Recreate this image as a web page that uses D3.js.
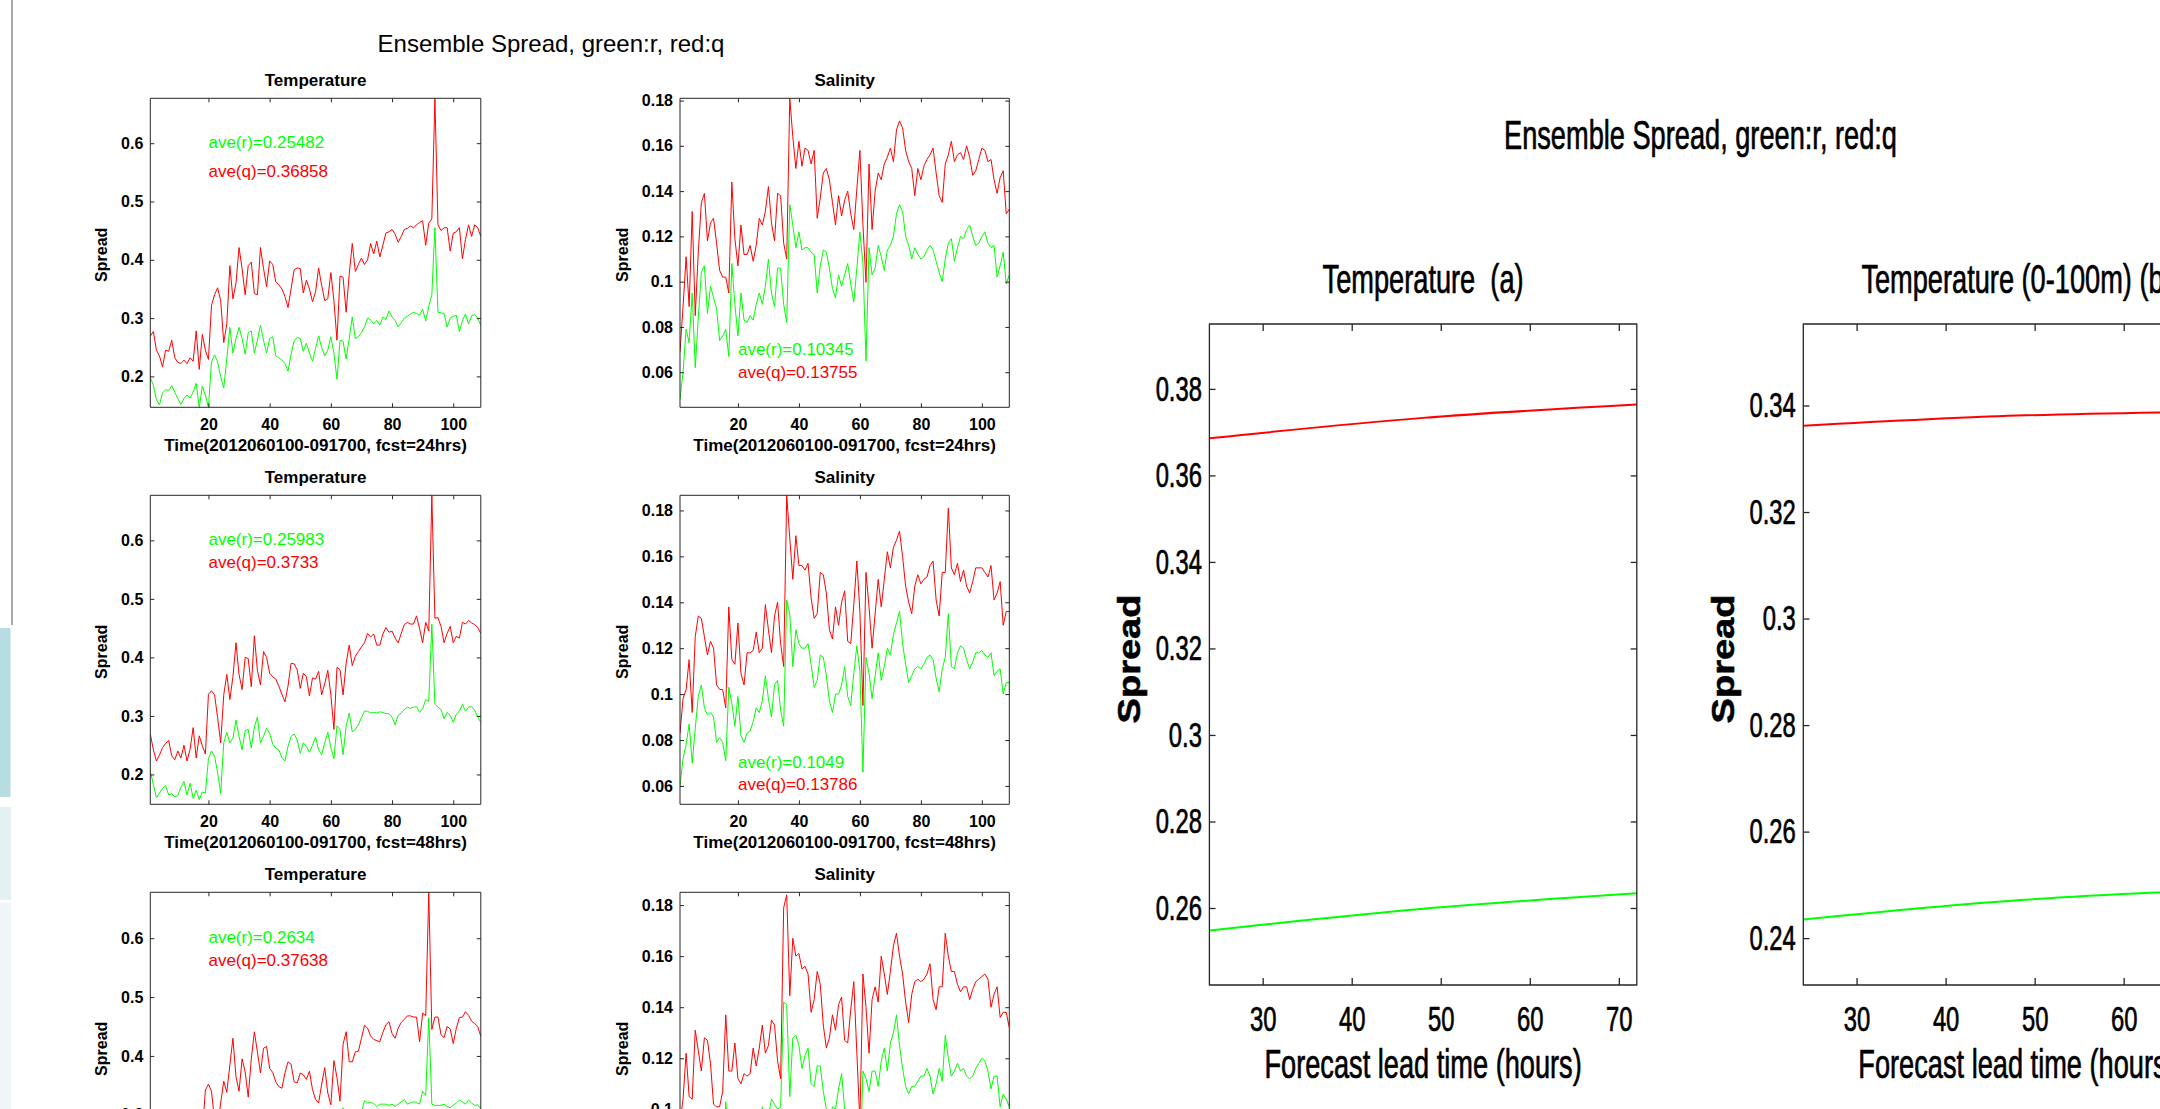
<!DOCTYPE html>
<html>
<head>
<meta charset="utf-8">
<title>Ensemble Spread, green:r, red:q</title>
<script src="https://cdn.jsdelivr.net/npm/d3@7/dist/d3.min.js"></script>
<style>
  body { margin: 0; background: #fff; }
</style>
</head>
<body>
<div id="main"></div>
<script>
// daily index, 2012060100 .. 2012091700
var days = d3.range(1, 110);

// ---- temperature spread, fcst = 24 / 48 / 72 hrs (r = green, q = red)
var tempQ24 = [0.269,0.277,0.245,0.235,0.216,0.245,0.243,0.262,0.232,0.224,
  0.222,0.228,0.222,0.232,0.226,0.278,0.212,0.272,0.245,0.229,
  0.322,0.340,0.352,0.330,0.258,0.290,0.390,0.333,0.360,0.421,
  0.385,0.340,0.390,0.396,0.342,0.340,0.421,0.385,0.354,0.398,
  0.392,0.362,0.357,0.350,0.337,0.318,0.350,0.383,0.386,0.385,
  0.343,0.365,0.350,0.328,0.345,0.386,0.356,0.330,0.333,0.378,
  0.330,0.262,0.372,0.370,0.310,0.375,0.428,0.380,0.392,0.403,
  0.392,0.400,0.428,0.410,0.432,0.405,0.425,0.446,0.448,0.452,
  0.444,0.430,0.440,0.452,0.454,0.458,0.455,0.460,0.464,0.467,
  0.425,0.463,0.470,0.677,0.460,0.450,0.455,0.455,0.415,0.446,
  0.448,0.455,0.402,0.435,0.460,0.440,0.460,0.455,0.440];
var tempR24 = [0.198,0.185,0.160,0.151,0.172,0.177,0.176,0.184,0.173,0.162,
  0.152,0.162,0.168,0.163,0.173,0.188,0.147,0.183,0.168,0.147,
  0.225,0.237,0.225,0.200,0.180,0.230,0.284,0.240,0.265,0.284,
  0.265,0.238,0.275,0.278,0.240,0.262,0.288,0.262,0.240,0.265,
  0.268,0.235,0.232,0.228,0.222,0.209,0.238,0.261,0.267,0.265,
  0.243,0.257,0.240,0.226,0.248,0.269,0.250,0.235,0.245,0.268,
  0.240,0.195,0.262,0.260,0.230,0.265,0.302,0.265,0.268,0.275,
  0.285,0.300,0.297,0.290,0.296,0.288,0.302,0.298,0.312,0.302,
  0.296,0.285,0.292,0.300,0.303,0.307,0.310,0.308,0.305,0.315,
  0.295,0.320,0.340,0.455,0.310,0.309,0.308,0.285,0.300,0.303,
  0.305,0.277,0.296,0.307,0.290,0.304,0.306,0.300,0.288];
var tempQ48 = [0.269,0.242,0.223,0.233,0.246,0.253,0.258,0.232,0.225,0.240,
  0.228,0.250,0.223,0.243,0.280,0.228,0.266,0.249,0.235,0.337,
  0.343,0.336,0.297,0.254,0.336,0.371,0.328,0.367,0.425,0.371,
  0.345,0.400,0.398,0.350,0.437,0.378,0.353,0.410,0.400,0.373,
  0.367,0.363,0.351,0.337,0.324,0.351,0.390,0.389,0.379,0.347,
  0.373,0.367,0.334,0.365,0.363,0.376,0.336,0.355,0.378,0.336,
  0.277,0.383,0.379,0.336,0.390,0.421,0.386,0.402,0.410,0.418,
  0.425,0.441,0.435,0.440,0.421,0.421,0.440,0.451,0.443,0.445,
  0.433,0.425,0.441,0.456,0.460,0.457,0.457,0.471,0.449,0.425,
  0.460,0.445,0.677,0.467,0.468,0.453,0.425,0.441,0.453,0.425,
  0.436,0.433,0.460,0.457,0.463,0.459,0.456,0.451,0.441];
var tempR48 = [0.205,0.183,0.160,0.168,0.176,0.181,0.165,0.167,0.162,0.164,
  0.178,0.188,0.165,0.185,0.159,0.173,0.157,0.170,0.168,0.227,
  0.240,0.231,0.203,0.168,0.254,0.272,0.254,0.262,0.293,0.265,
  0.242,0.275,0.277,0.245,0.281,0.298,0.254,0.265,0.279,0.270,
  0.252,0.245,0.242,0.229,0.223,0.248,0.265,0.269,0.259,0.236,
  0.254,0.248,0.238,0.250,0.264,0.242,0.234,0.254,0.272,0.246,
  0.227,0.283,0.277,0.234,0.283,0.305,0.273,0.277,0.285,0.297,
  0.308,0.308,0.305,0.306,0.305,0.307,0.306,0.304,0.304,0.298,
  0.285,0.301,0.305,0.311,0.315,0.313,0.315,0.316,0.306,0.312,
  0.328,0.325,0.457,0.320,0.315,0.311,0.295,0.306,0.301,0.289,
  0.303,0.308,0.320,0.308,0.315,0.316,0.310,0.298,0.289];
var tempQ72 = [0.270,0.245,0.225,0.235,0.245,0.255,0.250,0.232,0.225,0.240,
  0.230,0.250,0.225,0.245,0.280,0.222,0.250,0.268,0.342,0.352,
  0.340,0.290,0.280,0.320,0.357,0.338,0.385,0.430,0.365,0.340,
  0.395,0.373,0.330,0.395,0.441,0.407,0.371,0.413,0.416,0.379,
  0.372,0.356,0.348,0.345,0.371,0.390,0.386,0.356,0.354,0.371,
  0.368,0.360,0.374,0.343,0.326,0.320,0.352,0.380,0.337,0.317,
  0.392,0.363,0.323,0.420,0.441,0.390,0.390,0.407,0.408,0.430,
  0.452,0.447,0.434,0.428,0.426,0.424,0.440,0.453,0.458,0.438,
  0.430,0.447,0.457,0.462,0.468,0.468,0.466,0.466,0.424,0.473,
  0.468,0.678,0.445,0.466,0.466,0.436,0.431,0.450,0.446,0.421,
  0.447,0.465,0.466,0.475,0.469,0.459,0.455,0.450,0.433];
var tempR72 = [0.205,0.185,0.165,0.170,0.178,0.183,0.168,0.170,0.165,0.168,
  0.180,0.190,0.168,0.186,0.162,0.176,0.160,0.215,0.240,0.248,
  0.240,0.205,0.190,0.230,0.262,0.250,0.270,0.310,0.262,0.245,
  0.280,0.285,0.240,0.265,0.305,0.275,0.255,0.290,0.280,0.255,
  0.250,0.245,0.240,0.258,0.275,0.265,0.245,0.262,0.270,0.245,
  0.262,0.258,0.235,0.232,0.255,0.275,0.245,0.232,0.285,0.275,
  0.245,0.225,0.300,0.312,0.290,0.285,0.295,0.300,0.298,0.305,
  0.324,0.320,0.321,0.319,0.314,0.318,0.318,0.318,0.316,0.318,
  0.314,0.318,0.322,0.326,0.318,0.320,0.322,0.321,0.318,0.340,
  0.333,0.465,0.318,0.316,0.316,0.316,0.318,0.314,0.312,0.316,
  0.320,0.325,0.322,0.318,0.325,0.320,0.316,0.317,0.310];

// ---- salinity spread, fcst = 24 / 48 / 72 hrs
var salQ24 = [0.069,0.089,0.111,0.089,0.131,0.085,0.113,0.135,0.139,0.118,
  0.126,0.128,0.117,0.105,0.102,0.102,0.095,0.144,0.119,0.107,
  0.125,0.112,0.112,0.116,0.109,0.116,0.128,0.125,0.131,0.142,
  0.126,0.118,0.139,0.138,0.117,0.110,0.181,0.164,0.150,0.162,
  0.151,0.159,0.158,0.152,0.158,0.128,0.137,0.148,0.150,0.145,
  0.135,0.125,0.138,0.129,0.136,0.140,0.130,0.123,0.141,0.158,
  0.125,0.0997,0.152,0.123,0.140,0.148,0.145,0.152,0.155,0.159,
  0.153,0.167,0.171,0.168,0.158,0.153,0.150,0.138,0.150,0.145,
  0.151,0.154,0.156,0.159,0.148,0.138,0.135,0.152,0.156,0.162,
  0.153,0.156,0.157,0.154,0.160,0.155,0.147,0.149,0.154,0.159,
  0.158,0.153,0.154,0.145,0.139,0.146,0.149,0.130,0.132];
var salR24 = [0.048,0.060,0.079,0.073,0.095,0.062,0.084,0.104,0.107,0.086,
  0.098,0.093,0.088,0.074,0.076,0.079,0.067,0.108,0.090,0.076,
  0.095,0.083,0.082,0.085,0.083,0.090,0.095,0.090,0.098,0.110,
  0.095,0.089,0.106,0.106,0.090,0.082,0.134,0.125,0.115,0.122,
  0.114,0.115,0.115,0.113,0.112,0.095,0.107,0.114,0.113,0.106,
  0.097,0.093,0.103,0.098,0.103,0.108,0.099,0.091,0.106,0.122,
  0.108,0.065,0.115,0.103,0.106,0.116,0.111,0.105,0.114,0.116,
  0.120,0.130,0.134,0.131,0.120,0.116,0.110,0.115,0.112,0.110,
  0.111,0.114,0.116,0.114,0.109,0.104,0.100,0.110,0.117,0.119,
  0.109,0.115,0.120,0.119,0.123,0.125,0.120,0.116,0.117,0.120,
  0.122,0.117,0.115,0.116,0.102,0.107,0.113,0.099,0.103];
var salQ48 = [0.083,0.098,0.102,0.115,0.092,0.125,0.134,0.133,0.125,0.117,
  0.123,0.120,0.104,0.102,0.102,0.094,0.138,0.115,0.113,0.131,
  0.109,0.104,0.118,0.118,0.119,0.127,0.118,0.120,0.139,0.128,
  0.118,0.134,0.140,0.122,0.112,0.1866,0.168,0.150,0.169,0.156,
  0.156,0.154,0.157,0.142,0.133,0.135,0.153,0.152,0.144,0.128,
  0.124,0.138,0.130,0.140,0.145,0.123,0.122,0.139,0.158,0.136,
  0.095,0.153,0.138,0.120,0.135,0.150,0.138,0.150,0.162,0.155,
  0.164,0.167,0.171,0.160,0.147,0.140,0.135,0.147,0.152,0.148,
  0.150,0.151,0.156,0.158,0.141,0.134,0.153,0.153,0.181,0.155,
  0.152,0.157,0.149,0.154,0.147,0.144,0.149,0.155,0.155,0.155,
  0.153,0.151,0.156,0.141,0.144,0.149,0.130,0.136,0.136];
var salR48 = [0.060,0.072,0.078,0.087,0.070,0.085,0.099,0.104,0.094,0.091,
  0.092,0.090,0.079,0.081,0.079,0.071,0.103,0.096,0.086,0.099,
  0.082,0.079,0.083,0.084,0.088,0.094,0.092,0.097,0.108,0.098,
  0.090,0.104,0.106,0.093,0.086,0.141,0.135,0.112,0.128,0.122,
  0.120,0.120,0.122,0.113,0.103,0.106,0.117,0.116,0.108,0.097,
  0.092,0.100,0.100,0.104,0.112,0.099,0.095,0.109,0.121,0.110,
  0.066,0.116,0.109,0.098,0.108,0.118,0.106,0.112,0.120,0.117,
  0.126,0.131,0.136,0.122,0.113,0.105,0.108,0.111,0.112,0.111,
  0.113,0.116,0.117,0.115,0.107,0.101,0.111,0.116,0.135,0.112,
  0.111,0.118,0.121,0.120,0.115,0.111,0.114,0.118,0.118,0.119,
  0.117,0.116,0.118,0.108,0.110,0.111,0.100,0.105,0.105];
var salQ72 = [0.095,0.104,0.122,0.105,0.104,0.131,0.123,0.115,0.128,0.127,
  0.118,0.102,0.101,0.101,0.107,0.137,0.115,0.115,0.126,0.112,
  0.110,0.114,0.113,0.114,0.124,0.117,0.124,0.133,0.122,0.125,
  0.135,0.133,0.119,0.112,0.179,0.184,0.1445,0.167,0.160,0.161,
  0.155,0.156,0.153,0.138,0.143,0.154,0.149,0.133,0.124,0.128,
  0.137,0.131,0.141,0.144,0.127,0.126,0.139,0.150,0.122,0.095,
  0.153,0.140,0.122,0.143,0.148,0.142,0.160,0.153,0.145,0.154,
  0.164,0.169,0.160,0.153,0.142,0.134,0.145,0.150,0.151,0.150,
  0.151,0.153,0.157,0.143,0.139,0.148,0.148,0.169,0.160,0.154,
  0.154,0.149,0.146,0.148,0.148,0.143,0.147,0.150,0.151,0.152,
  0.153,0.151,0.140,0.145,0.148,0.136,0.138,0.138,0.132];
var salR72 = [0.065,0.070,0.085,0.072,0.080,0.092,0.088,0.082,0.090,0.088,
  0.084,0.075,0.074,0.072,0.078,0.103,0.090,0.085,0.090,0.082,
  0.080,0.083,0.082,0.083,0.090,0.086,0.092,0.101,0.095,0.097,
  0.104,0.102,0.100,0.101,0.142,0.141,0.105,0.128,0.129,0.125,
  0.116,0.121,0.124,0.110,0.109,0.117,0.117,0.107,0.100,0.095,
  0.101,0.100,0.108,0.114,0.100,0.098,0.095,0.096,0.092,0.075,
  0.115,0.112,0.107,0.115,0.115,0.109,0.119,0.124,0.115,0.126,
  0.130,0.137,0.125,0.116,0.109,0.106,0.109,0.109,0.111,0.113,
  0.113,0.116,0.113,0.106,0.110,0.116,0.111,0.129,0.120,0.113,
  0.115,0.118,0.115,0.116,0.113,0.112,0.113,0.116,0.118,0.120,
  0.119,0.115,0.108,0.113,0.113,0.101,0.106,0.104,0.101];

var fcstLabels = ["24hrs", "48hrs", "72hrs"];
var aveTempR = ["0.25482", "0.25983", "0.2634"];
var aveTempQ = ["0.36858", "0.3733", "0.37638"];
var aveSalR = ["0.10345", "0.1049", null];
var aveSalQ = ["0.13755", "0.13786", null];
var tempYLim = [[0.147, 0.677], [0.149, 0.677], [0.153, 0.678]];
var salYLim = [[0.0445, 0.181], [0.052, 0.1866], [0.064, 0.185]];
var dayTicks = [20, 40, 60, 80, 100];
var tempTicks = [0.2, 0.3, 0.4, 0.5, 0.6];
var salTicks = [0.06, 0.08, 0.1, 0.12, 0.14, 0.16, 0.18];

// ---- spread vs forecast lead time
var leadHours = [24, 48, 72];
var leadTempR = [0.25482, 0.25983, 0.2634];
var leadTempQ = [0.36858, 0.3733, 0.37638];
var lead100R = [0.2435, 0.2471, 0.2492];
var lead100Q = [0.3362, 0.3381, 0.3389];
var leadTicks = [30, 40, 50, 60, 70];
var leadTempTicks = [0.26, 0.28, 0.3, 0.32, 0.34, 0.36, 0.38];
var lead100Ticks = [0.24, 0.26, 0.28, 0.3, 0.32, 0.34];
var leadTempLim = [0.2422, 0.395];
var lead100Lim = [0.2312, 0.3553];

var FONT = "'Liberation Sans', Arial, Helvetica, sans-serif";
var AXIS = "#262626";
var SX = 0.68;   // the right hand figure is squeezed horizontally
var PAGE_H = 1109;

var svg = d3.select("#main").append("svg")
  .attr("width", 2160)
  .attr("height", PAGE_H)
  .style("display", "block")
  .attr("font-family", FONT);

// page side bar
svg.append("line").attr("x1", 12).attr("x2", 12).attr("y1", 0).attr("y2", 625)
  .attr("stroke", "#8c8c8c").attr("stroke-width", 1.5);
svg.append("rect").attr("x", 0).attr("y", 628).attr("width", 10.5).attr("height", 169).attr("fill", "#b7dde2");
svg.append("rect").attr("x", 0).attr("y", 807).attr("width", 11).attr("height", 93).attr("fill", "#e4f0f3");
svg.append("rect").attr("x", 0).attr("y", 903).attr("width", 11).attr("height", 206).attr("fill", "#eff6f8");

function fmt(d) { return String(+d.toFixed(3)); }

function drawSeries(g, x, y, values, xs, color, width, curve, clipId) {
  var line = d3.line()
    .x(function(d) { return x(d[0]); })
    .y(function(d) { return y(d[1]); });
  if (curve) line.curve(curve);
  g.append("path")
    .datum(d3.zip(xs, values))
    .attr("clip-path", "url(#" + clipId + ")")
    .attr("fill", "none")
    .attr("stroke", color)
    .attr("stroke-width", width)
    .attr("stroke-linejoin", "round")
    .attr("vector-effect", "non-scaling-stroke")
    .attr("d", line);
}

// matlab style box with inward ticks on all four sides
function boxAxes(g, x, y, w, h, xt, yt, o) {
  var ax = [
    g.append("g").attr("transform", "translate(0," + h + ")")
      .call(d3.axisBottom(x).tickValues(xt).tickSize(-o.tx).tickPadding(o.px)),
    g.append("g")
      .call(d3.axisTop(x).tickValues(xt).tickSize(-o.tx).tickFormat("")),
    g.append("g")
      .call(d3.axisLeft(y).tickValues(yt).tickSize(-o.ty).tickPadding(o.py).tickFormat(fmt)),
    g.append("g").attr("transform", "translate(" + w + ",0)")
      .call(d3.axisRight(y).tickValues(yt).tickSize(-o.ty).tickFormat(""))
  ];
  ax.forEach(function(a) {
    a.select(".domain").remove();
    a.attr("font-family", FONT).attr("font-size", o.fs).attr("font-weight", o.fw).style("color", AXIS);
    a.selectAll("text").attr("fill", "#000");
    a.selectAll("line").attr("stroke-width", o.sw).attr("vector-effect", "non-scaling-stroke");
  });
  g.append("rect").attr("width", w).attr("height", h)
    .attr("fill", "none").attr("stroke", AXIS).attr("stroke-width", o.sw)
    .attr("vector-effect", "non-scaling-stroke");
}

// left column: daily spread panels
svg.append("text").attr("x", 551).attr("y", 52).attr("text-anchor", "middle")
  .attr("font-size", 24).text("Ensemble Spread, green:r, red:q");

function smallPanel(id, left, top, w, title, ylim, yticks, r, q, aveR, aveQ, aveY, xlabel, ylabX) {
  var h = 309;
  var g = svg.append("g").attr("transform", "translate(" + left + "," + top + ")");
  var x = d3.scaleLinear().domain([1, 109]).range([0, w]);
  var y = d3.scaleLinear().domain(ylim).range([h, 0]);
  g.append("clipPath").attr("id", id).append("rect").attr("width", w).attr("height", h);

  drawSeries(g, x, y, q, days, "#ff0000", 1, null, id);
  drawSeries(g, x, y, r, days, "#00ff00", 1, null, id);
  boxAxes(g, x, y, w, h, dayTicks, yticks, {tx: 4, ty: 4, px: 11, py: 7, fs: 16, fw: "bold", sw: 1});

  g.append("text").attr("x", w / 2).attr("y", -12).attr("text-anchor", "middle")
    .attr("font-size", 17).attr("font-weight", "bold").text(title);
  g.append("text").attr("x", w / 2).attr("y", h + 43.5).attr("text-anchor", "middle")
    .attr("font-size", 17).attr("font-weight", "bold").text(xlabel);
  g.append("text").attr("transform", "translate(" + ylabX + "," + (h / 2 + 2) + ") rotate(-90)")
    .attr("text-anchor", "middle").attr("font-size", 16).attr("font-weight", "bold").text("Spread");

  if (aveR) {
    g.append("text").attr("x", x(20)).attr("y", aveY[0]).attr("fill", "#00ff00")
      .attr("font-size", 17).text("ave(r)=" + aveR);
    g.append("text").attr("x", x(20)).attr("y", aveY[1]).attr("fill", "#ff0000")
      .attr("font-size", 17).text("ave(q)=" + aveQ);
  }
}

var tAveY = [[50, 79], [50, 72.7], [50.3, 73.7]];
var sAveY = [[257, 280], [272.3, 295], [272, 295]];
var tempSeries = [[tempR24, tempQ24], [tempR48, tempQ48], [tempR72, tempQ72]];
var salSeries = [[salR24, salQ24], [salR48, salQ48], [salR72, salQ72]];

fcstLabels.forEach(function(f, i) {
  var top = 98.3 + i * 397;
  var xl = "Time(2012060100-091700, fcst=" + f + ")";
  smallPanel("ct" + i, 150.3, top, 330.5, "Temperature", tempYLim[i], tempTicks,
    tempSeries[i][0], tempSeries[i][1], aveTempR[i], aveTempQ[i], tAveY[i], xl, -43);
  smallPanel("cs" + i, 680, top, 329.3, "Salinity", salYLim[i], salTicks,
    salSeries[i][0], salSeries[i][1], aveSalR[i], aveSalQ[i], sAveY[i], xl, -52);
});

// right figure: spread against forecast lead time
var rg = svg.append("g").attr("transform", "scale(" + SX + ",1)")
  .attr("stroke-linejoin", "round");

rg.append("text").attr("x", 1700.5 / SX).attr("y", 149).attr("text-anchor", "middle")
  .attr("font-size", 40).text("Ensemble Spread, green:r, red:q");

function leadPanel(id, left, title, ylim, yticks, r, q) {
  var W = 427.4 / SX, H = 661, T = 324;
  var g = rg.append("g").attr("transform", "translate(" + (left / SX) + "," + T + ")");
  var x = d3.scaleLinear().domain([24, 72]).range([0, W]);
  var y = d3.scaleLinear().domain(ylim).range([H, 0]);
  g.append("clipPath").attr("id", id).append("rect").attr("width", W).attr("height", H);

  drawSeries(g, x, y, q, leadHours, "#ff0000", 2, d3.curveNatural, id);
  drawSeries(g, x, y, r, leadHours, "#00ff00", 2, d3.curveNatural, id);
  boxAxes(g, x, y, W, H, leadTicks, yticks, {tx: 7, ty: 9, px: 21, py: 11, fs: 35, fw: "normal", sw: 1.3});

  g.append("text").attr("x", W / 2).attr("y", -31).attr("text-anchor", "middle")
    .attr("font-size", 40).style("white-space", "pre").text(title);
  g.append("text").attr("x", W / 2).attr("y", 754).attr("text-anchor", "middle")
    .attr("font-size", 40).text("Forecast lead time (hours)");
  g.append("text").attr("transform", "translate(-102,335) rotate(-90) scale(1,1.2)")
    .attr("text-anchor", "middle").attr("font-size", 38).attr("font-weight", "bold").text("Spread");
}

leadPanel("cl0", 1209.4, "Temperature  (a)", leadTempLim, leadTempTicks, leadTempR, leadTempQ);
leadPanel("cl1", 1803.3, "Temperature (0-100m) (b)", lead100Lim, lead100Ticks, lead100R, lead100Q);

// the matlab fonts of the right figure print a little heavier
rg.selectAll("text").filter(function() { return this.textContent !== ""; })
  .attr("stroke", "#000").attr("stroke-width", 0.7);

// the page photo ends at the bottom edge: drop labels lying wholly below it
svg.selectAll("text").each(function() {
  var b = this.getBoundingClientRect();
  if (b.top >= PAGE_H) d3.select(this).remove();
});
</script>
</body>
</html>
